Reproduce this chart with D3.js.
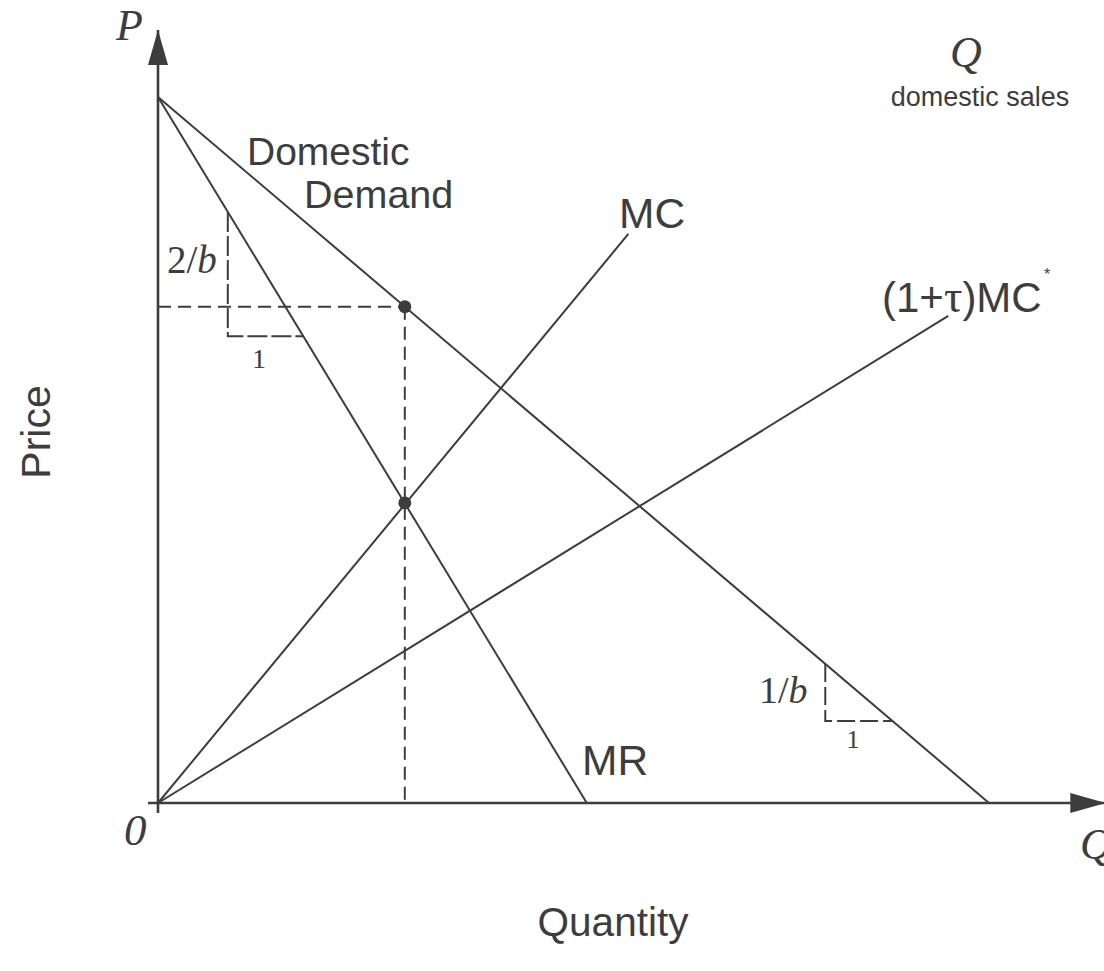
<!DOCTYPE html>
<html>
<head>
<meta charset="utf-8">
<script src="https://cdn.jsdelivr.net/npm/d3@7"></script>
<style>
  html, body { margin: 0; padding: 0; background: #fff; }
  svg { display: block; }
</style>
</head>
<body>
<div id="chart"></div>
<script>
// ---- data (model units: quantity Q, price P) ----
const demandLine = [[0, 10], [10, 0]];          // Domestic Demand
const mrLine     = [[0, 10], [5.16, 0]];        // MR
const mcLine     = [[0, 0], [5.66, 8.06]];      // MC
const mcStarLine = [[0, 0], [9.51, 6.9]];       // (1+tau)MC*
const eqQuantity = [2.97];                       // monopoly output
const eqPrices   = [7.03, 4.25];                 // price on demand, MC=MR level
const slopeMR    = [0.84, 6.61];                 // 2/b triangle: Q at vertical leg, P at horizontal leg
const slopeD     = [8.03, 1.16];                 // 1/b triangle: Q at vertical leg, P at horizontal leg
const axisExtent = { qMin: -0.12, qMax: 11.4, pMin: -0.14, pMax: 10.95 };

const W = 1104, H = 971;
const ink = "#3d3d3d";
const sans = "'Liberation Sans', Arial, Helvetica, sans-serif";
const serif = "'Liberation Serif', 'Times New Roman', serif";

const x = d3.scaleLinear().domain([0, 10]).range([158, 989]);
const y = d3.scaleLinear().domain([0, 10]).range([803, 97]);

const svg = d3.select("#chart").append("svg")
  .attr("width", W).attr("height", H)
  .style("background", "#fff");

const defs = svg.append("defs");
defs.append("marker")
  .attr("id", "arrow")
  .attr("viewBox", "0 0 35 20")
  .attr("refX", 35).attr("refY", 10)
  .attr("markerUnits", "userSpaceOnUse")
  .attr("markerWidth", 35).attr("markerHeight", 20)
  .attr("orient", "auto")
  .append("path").attr("d", "M0,0 L35,10 L0,20 Z").attr("fill", ink);

const line = d3.line().x(d => x(d[0])).y(d => y(d[1]));

// axes
svg.append("path")
  .attr("d", line([[0, axisExtent.pMin], [0, axisExtent.pMax]]))
  .attr("stroke", ink).attr("stroke-width", 2.6).attr("fill", "none")
  .attr("marker-end", "url(#arrow)");
svg.append("path")
  .attr("d", line([[axisExtent.qMin, 0], [axisExtent.qMax, 0]]))
  .attr("stroke", ink).attr("stroke-width", 2.6).attr("fill", "none")
  .attr("marker-end", "url(#arrow)");

// curves
[demandLine, mrLine, mcLine, mcStarLine].forEach(l => {
  svg.append("path").attr("d", line(l))
    .attr("stroke", ink).attr("stroke-width", 2).attr("fill", "none");
});

// helpers: price on line at quantity, quantity on line at price
function pAt(l, q) { const [a, b] = l; return a[1] + (b[1] - a[1]) * (q - a[0]) / (b[0] - a[0]); }
function qAt(l, p) { const [a, b] = l; return a[0] + (b[0] - a[0]) * (p - a[1]) / (b[1] - a[1]); }

// equilibrium dashed lines
const qm = eqQuantity[0];
svg.append("path").attr("d", line([[0, eqPrices[0]], [qm, eqPrices[0]]]))
  .attr("stroke", ink).attr("stroke-width", 2).attr("fill", "none")
  .attr("stroke-dasharray", "13,7");
svg.append("path").attr("d", line([[qm, eqPrices[0]], [qm, 0]]))
  .attr("stroke", ink).attr("stroke-width", 2).attr("fill", "none")
  .attr("stroke-dasharray", "13,7");

// slope triangles
function triangle(l, spec, dash) {
  const q0 = spec[0], p1 = spec[1];
  const top = pAt(l, q0), qEnd = qAt(l, p1);
  svg.append("path").attr("d", line([[q0, top], [q0, p1], [qEnd, p1]]))
    .attr("stroke", ink).attr("stroke-width", 2).attr("fill", "none")
    .attr("stroke-dasharray", dash);
}
triangle(mrLine, slopeMR, "20,4");
triangle(demandLine, slopeD, "18,5");

// dots
svg.selectAll("circle.eq").data(eqPrices).enter().append("circle")
  .attr("class", "eq")
  .attr("cx", x(qm)).attr("cy", d => y(d)).attr("r", 6.5).attr("fill", ink);

// text helpers
function txt(t, px, py, opts = {}) {
  return svg.append("text").attr("x", px).attr("y", py)
    .attr("fill", ink)
    .attr("font-family", opts.family || sans)
    .attr("font-size", opts.size || 40)
    .attr("font-style", opts.style || "normal")
    .attr("text-anchor", opts.anchor || "start")
    .text(t);
}

// axis symbols
txt("P", 116, 40, { family: serif, style: "italic", size: 44 });
txt("Q", 966, 67, { family: serif, style: "italic", size: 44, anchor: "middle" });
txt("domestic sales", 980, 106, { size: 27, anchor: "middle" });
txt("0", 124, 845, { family: serif, style: "italic", size: 45 });
txt("Q", 1080, 859, { family: serif, style: "italic", size: 44 });

// curve labels
txt("Domestic", 247, 165, { size: 39 });
txt("Demand", 304, 208, { size: 39.5 });
txt("MC", 619, 228, { size: 42.5 });
txt("MR", 582, 775, { size: 42.5 });
const mcs = txt("", 882, 312, { size: 42 });
mcs.append("tspan").text("(1+");
mcs.append("tspan").attr("font-family", serif).attr("font-size", 46).text("τ");
mcs.append("tspan").text(")MC");
txt("*", 1044, 280, { size: 16 });

// slope labels
const l2 = txt("", 167, 273, { family: serif, size: 39 });
l2.append("tspan").text("2/");
l2.append("tspan").attr("font-style", "italic").text("b");
txt("1", 259, 368, { family: serif, size: 28, anchor: "middle" });
const l1 = txt("", 759, 703, { family: serif, size: 38 });
l1.append("tspan").text("1/");
l1.append("tspan").attr("font-style", "italic").text("b");
txt("1", 853, 748, { family: serif, size: 26, anchor: "middle" });

// axis titles
svg.append("text")
  .attr("transform", "translate(50,432) rotate(-90)")
  .attr("text-anchor", "middle").attr("fill", ink)
  .attr("font-family", sans).attr("font-size", 41).text("Price");
txt("Quantity", 613, 936, { size: 40.5, anchor: "middle" });
</script>
</body>
</html>
